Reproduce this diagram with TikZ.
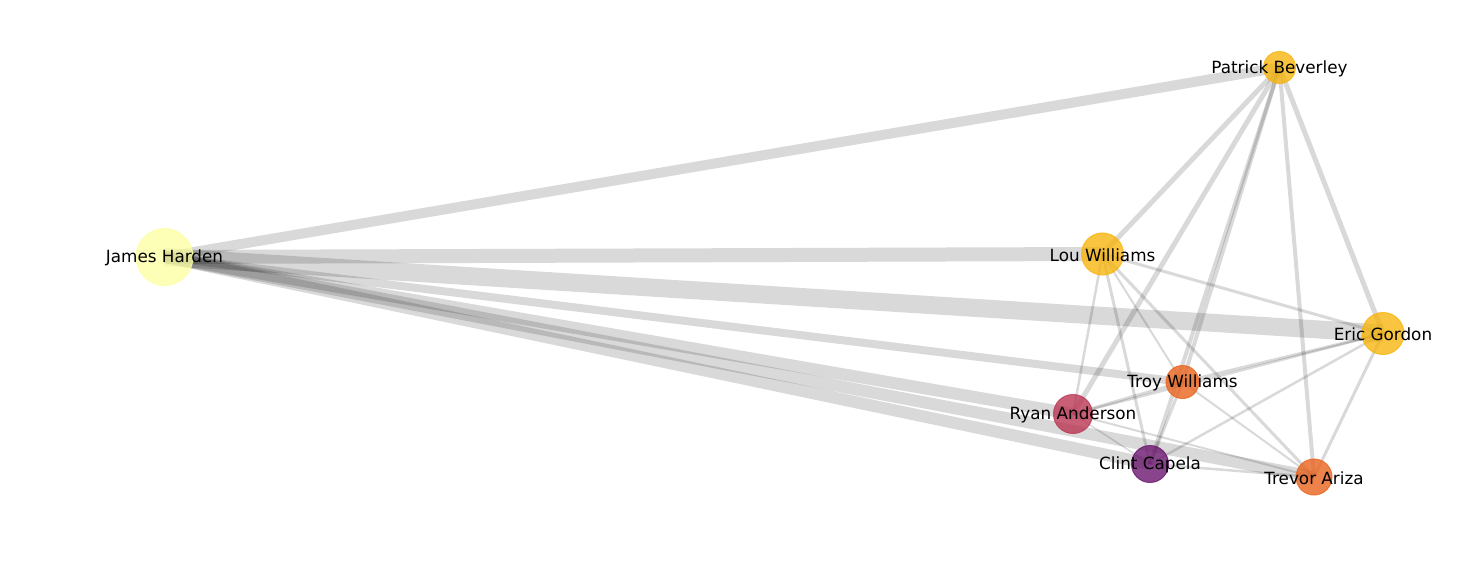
\documentclass[tikz,border=0pt]{standalone}
\usepackage{fontspec}
\setmainfont{DejaVu Sans}
\usetikzlibrary{backgrounds}
\definecolor{pale}{HTML}{FCFFA4}
\definecolor{amber}{HTML}{F7B50F}
\definecolor{tangerine}{HTML}{E9631E}
\definecolor{crimson}{HTML}{BB3754}
\definecolor{plum}{HTML}{6A176E}

\begin{document}
\begin{tikzpicture}[
    x=1pt, y=-1pt,
    every node/.style={font=\fontsize{16.8}{20}\selectfont},
    player/.style={
        circle,
        inner sep=0pt,
        fill opacity=0.8,
        draw opacity=0.8,
        line width=1pt
    },
    nome/.style={
        inner sep=0pt,
        text=black
    },
    link/.style={
        draw=black,
        draw opacity=0.15,
        line cap=butt
    }
]

\useasboundingbox (0,0) rectangle (1481,580);

% ============================================================
% JOGADORES
% ============================================================

\node[player, fill=pale, draw=pale, minimum size=57pt]
    (jh) at (164.5,257) {};
\node[player, fill=amber, draw=amber, minimum size=32pt]
    (pb) at (1279.5,67.5) {};
\node[player, fill=amber, draw=amber, minimum size=42pt]
    (lw) at (1102.5,254) {};
\node[player, fill=amber, draw=amber, minimum size=42pt]
    (eg) at (1383,333.5) {};
\node[player, fill=tangerine, draw=tangerine, minimum size=33pt]
    (tw) at (1182.5,382) {};
\node[player, fill=crimson, draw=crimson, minimum size=39pt]
    (ra) at (1073,414) {};
\node[player, fill=plum, draw=plum, minimum size=37pt]
    (cc) at (1150,464) {};
\node[player, fill=tangerine, draw=tangerine, minimum size=36pt]
    (ta) at (1314,477) {};

% ============================================================
% NOMES
% ============================================================

\foreach \p/\t in {
    jh/James Harden, pb/Patrick Beverley, lw/Lou Williams,
    eg/Eric Gordon, tw/Troy Williams, ra/Ryan Anderson,
    cc/Clint Capela, ta/Trevor Ariza}
{
    \node[nome] (\p-nome) at ([yshift=-1pt]\p) {\t};
}

% ============================================================
% LIGAÇÕES
% ============================================================

\begin{scope}[on background layer]
\foreach \a/\b/\w in {
    jh/pb/10, jh/lw/14, jh/eg/18, jh/tw/8,
    jh/ra/12, jh/ta/12, jh/cc/12,
    pb/lw/5, pb/ra/5, pb/tw/4, pb/cc/4, pb/ta/4, pb/eg/5,
    lw/eg/3, lw/ra/2.5, lw/cc/3, lw/tw/2, lw/ta/3,
    eg/tw/3, eg/ra/2.5, eg/cc/2.5, eg/ta/3,
    tw/ra/3, tw/cc/3, tw/ta/2,
    ra/cc/1.5, ra/ta/2, cc/ta/2.5}
{
    \draw[link, line width=\w pt] (\a.center) -- (\b.center);
}
\end{scope}

\end{tikzpicture}
\end{document}
